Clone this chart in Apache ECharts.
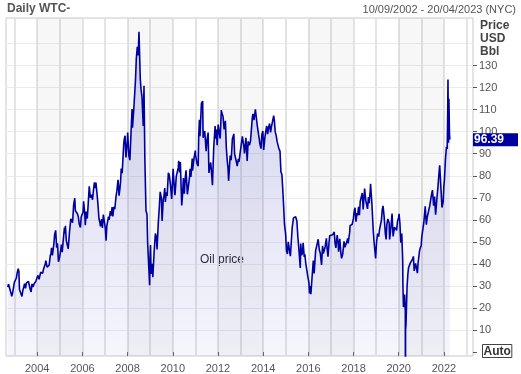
<!DOCTYPE html>
<html><head><meta charset="utf-8">
<script src="https://cdn.jsdelivr.net/npm/echarts@6/dist/echarts.min.js"></script>
<style>html,body{margin:0;padding:0;background:#fff}#c{width:521px;height:374px}</style>
</head><body><div id="c"></div>
<script>
const dates = [
'2002-09-10','2002-09-24','2002-10-08','2002-10-22','2002-11-06','2002-11-15','2002-11-29','2002-12-10','2002-12-27',
'2003-01-10','2003-01-28','2003-02-10','2003-02-27','2003-03-10','2003-03-20','2003-04-03','2003-04-29','2003-05-12','2003-05-28','2003-06-10','2003-06-25','2003-07-10','2003-07-25','2003-08-12','2003-08-27','2003-09-10','2003-09-24','2003-10-08','2003-10-24','2003-11-10','2003-11-26','2003-12-10','2003-12-29',
'2004-01-12','2004-01-30','2004-02-10','2004-02-26','2004-03-10','2004-03-30','2004-04-08','2004-04-26','2004-05-10','2004-05-19','2004-06-08','2004-06-24','2004-07-12','2004-07-30','2004-08-12','2004-08-19','2004-09-02','2004-09-28','2004-10-08','2004-10-25','2004-11-10','2004-11-24','2004-12-09','2004-12-31',
'2005-01-10','2005-01-26','2005-02-08','2005-02-28','2005-03-16','2005-03-29','2005-04-01','2005-04-15','2005-05-02','2005-05-16','2005-06-06','2005-06-27','2005-07-08','2005-07-25','2005-08-12','2005-08-30','2005-09-09','2005-09-23','2005-10-12','2005-10-28','2005-11-10','2005-11-29','2005-12-12','2005-12-28',
'2006-01-10','2006-01-20','2006-02-08','2006-02-16','2006-03-03','2006-03-20','2006-04-03','2006-04-21','2006-05-09','2006-05-25','2006-06-13','2006-06-28','2006-07-14','2006-07-28','2006-08-07','2006-08-24','2006-09-11','2006-09-25','2006-10-11','2006-10-19','2006-11-06','2006-11-20','2006-12-05','2006-12-20',
'2007-01-05','2007-01-18','2007-01-30','2007-02-12','2007-02-26','2007-03-09','2007-03-28','2007-04-10','2007-04-25','2007-05-08','2007-05-23','2007-06-08','2007-06-28','2007-07-10','2007-07-31','2007-08-16','2007-08-29','2007-09-10','2007-09-20','2007-10-05','2007-10-31','2007-11-07','2007-11-21','2007-12-05','2007-12-28',
'2008-01-02','2008-01-22','2008-02-07','2008-02-25','2008-03-13','2008-03-20','2008-04-10','2008-04-28','2008-05-08','2008-05-21','2008-06-06','2008-06-20','2008-07-03','2008-07-24','2008-08-05','2008-08-20','2008-09-10','2008-09-22','2008-10-06','2008-10-24','2008-11-10','2008-11-20','2008-12-05','2008-12-22','2008-12-31',
'2009-01-06','2009-01-15','2009-02-02','2009-02-12','2009-03-05','2009-03-25','2009-04-10','2009-04-21','2009-05-11','2009-05-29','2009-06-11','2009-06-30','2009-07-12','2009-07-31','2009-08-10','2009-08-24','2009-09-02','2009-09-17','2009-10-01','2009-10-21','2009-11-04','2009-11-24','2009-12-14','2009-12-31',
'2010-01-06','2010-01-29','2010-02-05','2010-02-26','2010-03-15','2010-03-31','2010-04-06','2010-04-20','2010-05-03','2010-05-25','2010-06-08','2010-06-21','2010-07-06','2010-07-22','2010-08-03','2010-08-24','2010-09-08','2010-09-30','2010-10-07','2010-10-20','2010-11-11','2010-11-16','2010-12-10','2010-12-31',
'2011-01-04','2011-01-27','2011-02-15','2011-02-24','2011-03-07','2011-03-16','2011-04-08','2011-04-29','2011-05-06','2011-05-23','2011-06-01','2011-06-24','2011-07-08','2011-07-26','2011-08-08','2011-08-22','2011-09-06','2011-09-23','2011-10-04','2011-10-25','2011-11-16','2011-11-25','2011-12-05','2011-12-19',
'2012-01-04','2012-01-24','2012-02-06','2012-02-24','2012-03-01','2012-03-23','2012-04-10','2012-04-30','2012-05-15','2012-05-31','2012-06-12','2012-06-21','2012-07-06','2012-07-17','2012-08-02','2012-08-21','2012-09-14','2012-09-26','2012-10-05','2012-10-30','2012-11-07','2012-11-26','2012-12-06','2012-12-27',
'2013-01-10','2013-01-30','2013-02-13','2013-02-26','2013-03-05','2013-03-28','2013-04-02','2013-04-17','2013-05-03','2013-05-24','2013-06-10','2013-06-25','2013-07-10','2013-07-19','2013-08-06','2013-08-28','2013-09-06','2013-09-27','2013-10-10','2013-10-31','2013-11-08','2013-11-27','2013-12-10','2013-12-27',
'2014-01-09','2014-01-29','2014-02-13','2014-02-28','2014-03-14','2014-03-28','2014-04-15','2014-04-30','2014-05-13','2014-05-30','2014-06-20','2014-06-30','2014-07-15','2014-07-31','2014-08-14','2014-08-29','2014-09-12','2014-09-30','2014-10-15','2014-10-31','2014-11-13','2014-11-28','2014-12-12','2014-12-31',
'2015-01-13','2015-01-29','2015-02-10','2015-02-27','2015-03-06','2015-03-17','2015-04-15','2015-04-30','2015-05-06','2015-05-29','2015-06-10','2015-06-30','2015-07-14','2015-07-31','2015-08-24','2015-08-31','2015-09-14','2015-09-30','2015-10-09','2015-10-27','2015-11-06','2015-11-20','2015-12-10','2015-12-21',
'2016-01-11','2016-01-20','2016-02-02','2016-02-11','2016-03-08','2016-03-22','2016-04-04','2016-04-28','2016-05-13','2016-05-26','2016-06-08','2016-06-27','2016-07-13','2016-08-02','2016-08-18','2016-08-31','2016-09-15','2016-09-29','2016-10-19','2016-10-31','2016-11-14','2016-11-30','2016-12-12','2016-12-30',
'2017-01-09','2017-01-27','2017-02-13','2017-02-23','2017-03-09','2017-03-22','2017-04-12','2017-04-28','2017-05-04','2017-05-24','2017-06-08','2017-06-21','2017-07-10','2017-07-31','2017-08-14','2017-08-31','2017-09-14','2017-09-28','2017-10-06','2017-10-31','2017-11-06','2017-11-30','2017-12-11','2017-12-29',
'2018-01-10','2018-01-25','2018-02-09','2018-02-27','2018-03-09','2018-03-23','2018-04-06','2018-04-19','2018-05-08','2018-05-22','2018-06-06','2018-06-29','2018-07-10','2018-07-18','2018-08-15','2018-08-30','2018-09-10','2018-09-28','2018-10-03','2018-10-25','2018-11-14','2018-11-28','2018-12-10','2018-12-24',
'2019-01-08','2019-01-25','2019-02-11','2019-02-25','2019-03-08','2019-03-29','2019-04-10','2019-04-23','2019-05-10','2019-05-31','2019-06-12','2019-06-24','2019-07-10','2019-07-31','2019-08-07','2019-08-29','2019-09-16','2019-09-30','2019-10-03','2019-10-25','2019-11-11','2019-11-29','2019-12-12','2019-12-31',
'2020-01-07','2020-01-21','2020-02-04','2020-02-20','2020-03-06','2020-03-09','2020-03-18','2020-03-30','2020-04-06','2020-04-17','2020-04-20','2020-04-21','2020-04-28','2020-05-15','2020-05-29','2020-06-08','2020-06-26','2020-07-10','2020-07-30','2020-08-13','2020-08-26','2020-09-08','2020-09-30','2020-10-12','2020-10-30','2020-11-09','2020-11-30','2020-12-10','2020-12-31',
'2021-01-08','2021-01-28','2021-02-10','2021-02-25','2021-03-05','2021-03-23','2021-04-06','2021-04-28','2021-05-17','2021-05-28','2021-06-11','2021-06-30','2021-07-06','2021-07-19','2021-08-03','2021-08-20','2021-09-10','2021-09-28','2021-10-12','2021-10-25','2021-11-09','2021-11-26','2021-12-01','2021-12-20','2021-12-31',
'2022-01-10','2022-01-26','2022-02-11','2022-02-23','2022-03-03','2022-03-08','2022-03-16','2022-03-23','2022-04-01','2022-04-07'
];
const prices = [
29.5,30.8,29.4,28.6,26.4,25.3,26.9,27.5,31.6,
31.6,33.6,35.8,37.8,36.7,28.4,28.7,25.2,27.8,29.5,31.0,28.9,31.4,30.6,32.0,31.9,28.4,27.3,30.9,29.5,30.9,31.3,32.2,32.6,
34.8,33.0,33.9,36.2,35.8,35.8,37.2,36.8,40.1,41.5,38.5,37.6,39.4,43.8,44.8,47.3,43.9,49.6,53.3,55.2,47.4,49.4,41.0,43.5,
45.4,48.8,45.3,51.8,56.5,53.9,57.3,50.5,49.7,46.8,54.6,60.5,59.6,58.7,66.9,69.8,64.1,64.2,62.8,61.1,58.1,56.5,61.4,61.0,
63.4,68.4,62.6,57.6,63.7,60.6,66.7,75.2,70.0,71.4,69.1,73.5,77.0,74.4,76.9,72.1,66.2,60.5,58.6,57.0,60.3,56.3,62.4,63.2,
56.3,50.5,57.1,57.8,61.4,60.0,64.0,61.9,65.8,61.5,65.9,64.8,70.7,72.8,78.2,71.0,74.0,77.5,83.3,81.2,94.5,96.4,98.2,88.3,96.0,
99.6,89.0,87.1,99.2,110.3,101.8,110.1,118.8,123.7,133.2,138.5,134.6,145.3,124.0,119.2,116.0,102.6,120.9,87.8,64.2,62.4,49.6,40.8,30.3,44.6,
48.6,35.4,40.1,34.0,45.4,53.8,52.2,46.5,58.5,66.3,72.7,69.9,59.5,69.5,70.6,74.4,68.1,72.5,70.8,81.4,80.4,76.0,69.5,79.4,
83.2,72.9,71.2,79.7,79.8,83.8,86.8,81.5,86.2,66.5,71.4,79.0,71.9,79.3,82.5,71.6,74.7,79.9,83.2,79.5,87.8,82.3,88.0,91.4,
89.4,85.6,84.3,98.1,105.4,97.9,112.8,113.9,97.2,97.7,100.3,91.2,96.2,99.6,81.3,84.1,86.0,79.9,75.7,93.2,102.6,96.8,101.0,93.9,
103.2,99.0,96.9,109.8,108.8,106.9,101.0,104.9,92.8,86.5,83.3,77.7,84.5,89.2,87.1,96.7,99.0,89.9,89.9,85.7,84.4,87.7,86.3,90.9,
93.8,97.9,97.0,92.6,90.1,97.2,97.1,86.7,95.6,93.8,95.8,95.3,106.5,108.1,105.3,110.1,110.5,102.9,103.0,96.4,94.6,92.3,98.5,100.3,
91.7,97.4,100.4,102.6,98.9,101.7,103.7,99.7,102.0,102.7,107.3,105.4,99.9,98.2,95.6,95.9,92.3,91.2,81.8,80.5,74.2,66.2,57.8,53.3,
45.9,44.5,50.0,49.8,49.6,43.5,56.4,59.6,60.9,60.3,61.4,59.5,53.0,47.1,38.2,49.2,44.0,45.1,49.6,43.2,44.3,40.4,36.8,34.7,
31.4,26.6,29.9,26.2,36.5,41.5,35.7,46.0,46.2,49.5,51.2,46.3,44.8,39.5,48.2,44.7,43.9,47.8,51.6,46.9,43.3,49.4,52.8,53.7,
52.0,53.2,52.9,54.5,49.3,47.3,53.1,49.3,45.5,51.4,45.6,42.5,44.4,50.2,47.6,47.2,49.9,51.6,49.3,54.4,57.4,57.4,58.0,60.4,
63.6,65.5,59.2,63.0,62.0,65.9,62.1,68.3,69.1,72.2,64.7,74.2,74.0,68.8,65.0,70.3,67.5,73.3,76.4,67.3,56.0,50.3,51.0,42.5,
49.8,53.7,52.4,55.5,56.1,60.1,64.6,66.3,61.7,53.5,51.1,57.9,60.4,58.6,51.1,56.7,62.9,54.1,52.5,56.7,56.9,55.2,59.2,61.1,
62.7,58.3,49.6,53.8,41.3,31.1,20.4,20.1,26.1,18.3,-37.6,10.0,12.3,29.4,35.5,38.2,38.5,40.6,39.9,42.2,43.4,36.8,40.2,39.4,35.8,40.3,45.3,46.8,48.5,
52.2,52.3,58.7,63.5,66.1,57.8,61.1,63.9,66.3,66.3,70.9,73.5,73.4,66.4,70.6,62.3,69.7,75.3,80.6,84.7,84.2,68.2,65.6,68.2,75.2,
78.2,87.4,93.1,92.1,107.7,123.7,95.0,114.9,99.3,96.39
];
const xLabelYears = ['2004','2006','2008','2010','2012','2014','2016','2018','2020','2022'];
const gridYears = ['2003','2004','2005','2006','2007','2008','2009','2010','2011','2012','2013','2014','2015','2016','2017','2018','2019','2020','2021','2022','2023'];
const bandRanges = [['2004','2006'],['2008','2010'],['2012','2014'],['2016','2018'],['2020','2022']];
const yLabelValues = [10,20,30,40,50,60,70,80,90,100,110,120,130];
const yTickValues = [0,10,20,30,40,50,60,70,80,90,100,110,120,130];
const yGridValues = [10,20,30,40,50,60,70,80,90,100,110,120,130,140];
const xStart = '2002-08-14', xEnd = '2023-04-16';
const yMin = -1.8, yMax = 151.6;

const FONT = '"Liberation Sans", Arial, sans-serif';
const ts = s => Date.parse(s + 'T00:00:00Z');
const jan = y => ts(y + '-01-01');
const n = Math.min(dates.length, prices.length);
const seriesData = [];
for (let i = 0; i < n; i++) seriesData.push([ts(dates[i]), prices[i]]);
const lastPrice = prices[n - 1];

const chart = echarts.init(document.getElementById('c'), null, {renderer: 'canvas'});
chart.setOption({
  animation: false,
  backgroundColor: '#fff',
  textStyle: {fontFamily: FONT},
  grid: {left: 6, top: 18, right: 45.5, bottom: 17, show: true, borderColor: '#c8c8c8', borderWidth: 1, backgroundColor: '#fff'},
  xAxis: [
    {type: 'value', min: ts(xStart), max: ts(xEnd), position: 'bottom', scale: true,
     axisLine: {show: false},
     axisTick: {show: true, customValues: xLabelYears.map(jan), length: 4, lineStyle: {color: '#666'}},
     axisLabel: {customValues: xLabelYears.map(jan), color: '#555', fontSize: 11, fontFamily: FONT, margin: 7,
       formatter: v => String(new Date(v).getUTCFullYear())},
     splitLine: {show: false}},
    {type: 'value', min: ts(xStart), max: ts(xEnd), position: 'bottom', scale: true,
     axisLine: {show: false},
     axisTick: {show: false, customValues: gridYears.map(jan)},
     axisLabel: {show: false, customValues: gridYears.map(jan)},
     splitLine: {show: true, lineStyle: {color: '#e4e4e4', width: 2}}}
  ],
  yAxis: [
    {type: 'value', position: 'right', min: yMin, max: yMax,
     axisLine: {show: false},
     axisTick: {show: true, customValues: yTickValues, length: 4, lineStyle: {color: '#555'}},
     axisLabel: {customValues: yLabelValues, color: '#555', fontSize: 11, fontFamily: FONT, margin: 6},
     splitLine: {show: false}},
    {type: 'value', position: 'right', min: yMin, max: yMax,
     axisLine: {show: false},
     axisTick: {show: false, customValues: yGridValues},
     axisLabel: {show: false, customValues: yGridValues},
     splitLine: {show: true, lineStyle: {color: '#ececec', width: 1}}},
    {type: 'value', position: 'right', min: yMin, max: yMax,
     axisLine: {show: false}, axisTick: {show: false}, splitLine: {show: false},
     axisLabel: {customValues: [lastPrice], margin: 0, formatter: v => Number(v).toFixed(2),
       color: '#fff', fontWeight: 'bold', fontSize: 12, fontFamily: FONT,
       backgroundColor: '#0000a0', padding: [1, 14, 0, 1], lineHeight: 12}}
  ],
  series: [{
    type: 'line', xAxisIndex: 0, yAxisIndex: 0, data: seriesData,
    showSymbol: false, symbol: 'none', silent: true, z: 3, clip: true,
    lineStyle: {color: '#0000a0', width: 1.6},
    itemStyle: {color: '#0000a0'},
    areaStyle: {origin: 'start', color: new echarts.graphic.LinearGradient(0, 18, 0, 357, [
      {offset: 0, color: 'rgba(110,110,210,0.46)'},
      {offset: 1, color: 'rgba(110,110,210,0.09)'}], true)},
    markArea: {silent: true, itemStyle: {color: 'rgba(0,0,0,0.03)'},
      data: bandRanges.map(r => [{xAxis: jan(r[0])}, {xAxis: jan(r[1])}])}
  }],
  graphic: [
    {type: 'text', left: 7, top: 3, style: {text: 'Daily WTC-', font: 'bold 12px ' + FONT, fill: '#555'}},
    {type: 'text', right: 5, top: 4, style: {text: '10/09/2002 - 20/04/2023 (NYC)', font: '11px ' + FONT, fill: '#555'}},
    {type: 'text', left: 480, top: 19, style: {text: 'Price\nUSD\nBbl', font: 'bold 12px ' + FONT, fill: '#444', lineHeight: 13}},
    {type: 'text', left: 482, top: 344, style: {text: 'Auto', font: 'bold 12px ' + FONT, fill: '#333', borderColor: '#444', borderWidth: 1, padding: [1, 1, 0, 1]}},
    {type: 'text', left: 200, top: 254, style: {text: 'Oil price', font: '12px ' + FONT, fill: '#222'}}
  ]
});
</script></body></html>
